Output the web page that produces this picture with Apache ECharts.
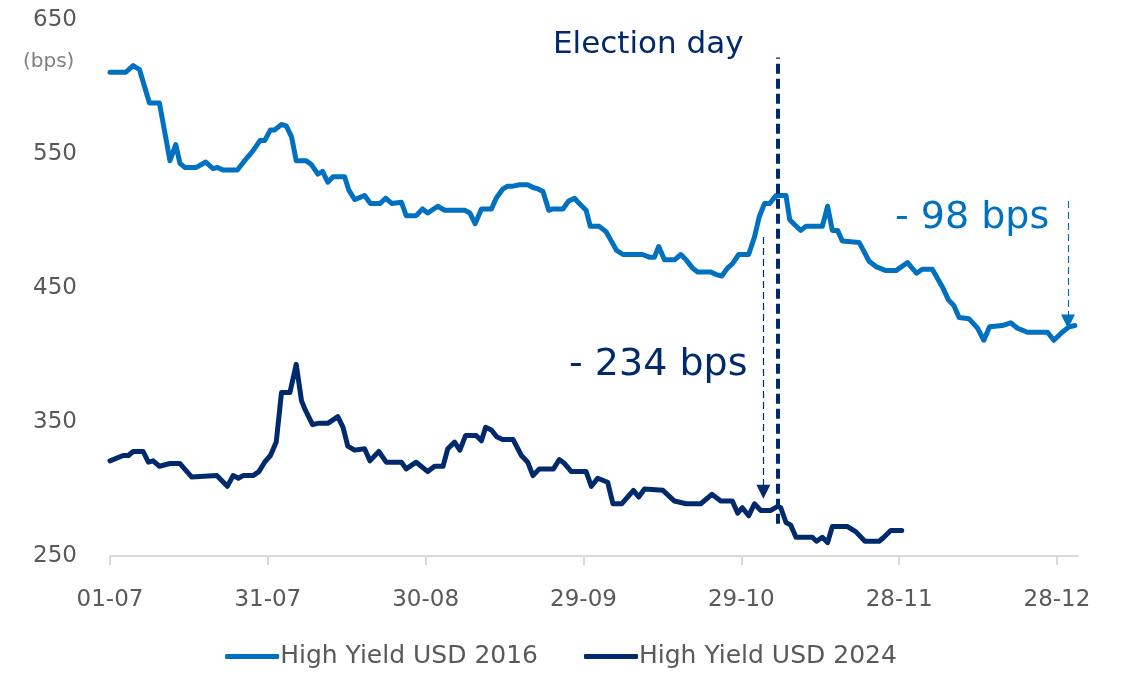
<!DOCTYPE html>
<html>
<head>
<meta charset="utf-8">
<script src="https://cdn.jsdelivr.net/npm/echarts@6/dist/echarts.min.js"></script>
<style>
  html, body { margin: 0; padding: 0; background: #ffffff; }
  #chart { width: 1122px; height: 676px; }
</style>
</head>
<body>
<div id="chart"></div>
<script>
// ---- data (day offset from 01-07, spread in bps) ----
const tickDays   = [0, 30, 60, 90, 120, 150, 180];
const tickLabels = ['01-07', '31-07', '30-08', '29-09', '29-10', '28-11', '28-12'];

const days2016 = [0,3,4.4,5.6,7.5,9.4,11.4,12.5,13.3,14.2,16.4,18.2,19.6,20.4,21.5,24.2,26,27.1,28.5,29.4,30.5,31.3,32.6,33.5,34.5,35.4,37.3,38.3,39.5,40.4,41.4,42.4,44.6,45.4,46.5,48.4,49.5,51.3,52.4,53.6,55.4,56.3,58.2,59.4,60.4,62.3,63.6,67.4,68.4,69.4,70.6,72.5,73.4,74.7,75.6,76.6,77.8,79.4,80.4,81.3,82.3,83.4,84.2,86.1,87.2,88.3,89.2,90.5,91.3,93,94.3,95.3,96.3,97.5,101.2,102.5,103.5,104.3,105.4,107.3,108.5,109.5,110.7,111.7,114.2,115.2,116.3,117.4,118.3,119.5,121.4,122.5,123.4,124.4,125.4,126.6,128.5,129.2,130.2,131.3,132.3,135.4,136.4,137.3,138.3,139.2,142.4,144.3,145.6,147.5,149.4,151.6,153.3,154.4,156.3,158.2,159.4,160.4,161.4,163.3,164.9,166.1,167.2,169.6,171.2,172.5,174.4,178.2,179.4,181,182.3,183.4];
const hy2016   = [611,611,616,613,588,588,545,557,543,540,540,544,539,540,538,538,547,552,560,560,568,568,572,571,563,545,545,542,535,537,529,533,533,523,516,519,513,513,517,513,514,504,504,509,506,511,508,508,506,498,509,509,517,524,526,526,527,527,525,524,522,508,509,509,515,517,513,508,496,496,492,485,478,475,475,473,473,481,471,471,475,471,465,462,462,460,459,465,468,475,475,488,503,513,513,519,519,501,497,493,496,496,511,493,493,485,484,470,466,463,463,469,461,464,464,451,441,437,428,427,420,411,421,422,424,420,417,417,411,417,421,422];

const days2024 = [0,2.5,3.5,4.4,6.3,7.3,8.2,9.4,11.4,13.3,15.5,20.3,22.3,23.4,24.4,25.3,27.2,28.3,29.4,30.5,31.6,32.6,34.2,35.4,36.4,37,38.5,39.5,41.4,43.3,44.3,45.2,46.5,48.4,49.4,51.1,52.5,55.4,56.3,58.2,60.4,61.7,63.3,64.2,65.5,66.5,67.6,69.6,70.6,71.4,72.5,73.5,74.6,76.6,78.2,79.4,80.4,81.6,84.3,85.4,86.4,87.7,90.5,91.5,92.7,94.6,95.6,97.3,99.5,100.5,101.6,105.1,107.3,109.5,112.3,114.4,116.1,118.3,119.3,120.2,121.4,122.5,123.7,125.6,126.9,127.5,128.5,129.4,130.4,133.5,134.3,135.4,136.4,137.3,140.2,141.8,143.5,146.2,147.1,148.4,150.5];
const hy2024   = [321,325,325,328,328,320,321,317,319,319,309,310,302,310,308,310,310,313,320,325,335,372,372,393,366,360,348,349,349,354,346,332,329,330,321,328,320,320,315,320,313,317,317,330,335,329,340,340,336,346,344,339,337,337,325,320,310,315,315,322,319,313,313,302,308,305,289,289,299,294,300,299,291,289,289,296,291,291,282,286,280,289,284,284,287,286,275,273,264,264,261,264,260,272,272,268,261,261,264,269,269];

// annotations (data coordinates)
const electionDay = 127;
const electionLine = [274, 622];
const arrow2024 = { day: 124.2, from: 488, to: 298 };
const arrow2016 = { day: 182.1, from: 515, to: 425 };

const C2016 = '#0070C0';
const C2024 = '#002A6C';
const GREY = '#595959';
const FONT = 'DejaVu Sans';

const zip = (xs, ys) => xs.map((x, i) => [x, ys[i]]);

const chart = echarts.init(document.getElementById('chart'), null, { renderer: 'canvas' });

chart.setOption({
  animation: false,
  textStyle: { fontFamily: FONT },
  grid: { left: 110, right: 44, top: 20, bottom: 120, containLabel: false },
  legend: {
    bottom: 2,
    left: 'center',
    icon: 'roundRect',
    itemWidth: 54,
    itemHeight: 5,
    itemGap: 46,
    textStyle: { fontFamily: FONT, fontSize: 25, color: GREY, padding: [0, 0, 0, -4] },
    data: ['High Yield USD 2016', 'High Yield USD 2024']
  },
  xAxis: {
    type: 'value',
    min: 0,
    max: 184,
    interval: 30,
    splitLine: { show: false },
    axisLine: { show: true, lineStyle: { color: '#D9D9D9', width: 2 } },
    axisTick: { show: true, length: 9, lineStyle: { color: '#D9D9D9', width: 2 }, customValues: tickDays },
    axisLabel: {
      customValues: tickDays,
      formatter: v => { const i = tickDays.indexOf(v); return i >= 0 ? tickLabels[i] : ''; },
      color: GREY, fontSize: 23, fontFamily: FONT, margin: 33
    }
  },
  yAxis: {
    type: 'value',
    min: 250,
    max: 650,
    interval: 100,
    splitLine: { show: false },
    axisLine: { show: false },
    axisTick: { show: false },
    axisLabel: { color: GREY, fontSize: 23, fontFamily: FONT, margin: 33 }
  },
  series: [
    {
      name: 'High Yield USD 2016',
      type: 'line',
      data: zip(days2016, hy2016),
      showSymbol: false,
      symbol: 'none',
      lineStyle: { color: C2016, width: 5, cap: 'round', join: 'round' },
      itemStyle: { color: C2016 },
      z: 3,
      markLine: {
        silent: true,
        symbol: ['none', 'triangle'],
        symbolSize: [14, 14],
        label: { show: false },
        lineStyle: { color: C2016, width: 1.2, type: [7, 4] },
        data: [[
          { coord: [arrow2016.day, arrow2016.from] },
          { coord: [arrow2016.day, arrow2016.to] }
        ]]
      }
    },
    {
      name: 'High Yield USD 2024',
      type: 'line',
      data: zip(days2024, hy2024),
      showSymbol: false,
      symbol: 'none',
      lineStyle: { color: C2024, width: 5, cap: 'round', join: 'round' },
      itemStyle: { color: C2024 },
      z: 3,
      markLine: {
        silent: true,
        label: { show: false },
        data: [
          [
            { coord: [arrow2024.day, arrow2024.from], symbol: 'none', lineStyle: { color: C2024, width: 1.2, type: [7, 4] } },
            { coord: [arrow2024.day, arrow2024.to], symbol: 'triangle', symbolSize: [14, 14] }
          ],
          [
            { coord: [electionDay, electionLine[0]], symbol: 'none', lineStyle: { color: C2024, width: 4, type: [10, 5] } },
            { coord: [electionDay, electionLine[1]], symbol: 'none' }
          ]
        ]
      }
    }
  ],
  graphic: [
    { type: 'text', left: 23, top: 52, style: { text: '(bps)', fill: '#808080', fontSize: 20, fontFamily: FONT } },
    { type: 'text', left: 553, top: 29, style: { text: 'Election day', fill: C2024, fontSize: 31, fontFamily: FONT } },
    { type: 'text', left: 569, top: 346, style: { text: '- 234 bps', fill: C2024, fontSize: 38, fontFamily: FONT } },
    { type: 'text', left: 895, top: 199, style: { text: '- 98 bps', fill: C2016, fontSize: 38, fontFamily: FONT } }
  ]
});
</script>
</body>
</html>
